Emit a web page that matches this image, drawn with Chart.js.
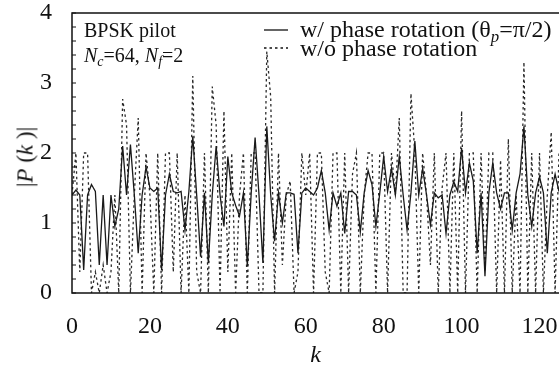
<!DOCTYPE html>
<html>
<head>
<meta charset="utf-8">
<script src="https://cdn.jsdelivr.net/npm/chart.js@4.4.1/dist/chart.umd.min.js"></script>
<style>
    html, body { margin: 0; padding: 0; background: #fff; }
    #wrap { position: relative; width: 559px; height: 374px; overflow: hidden; font-family: "Liberation Serif", "DejaVu Serif", serif; color: #111; }
    #chart { position: absolute; left: 0; top: 0; }
    .txt { position: absolute; white-space: nowrap; line-height: 1; }
    sub { font-size: 0.7em; vertical-align: -0.3em; line-height: 0; }
</style>
</head>
<body>
<div id="wrap">
    <canvas id="chart" width="559" height="374"></canvas>
    <div class="txt" style="left:84px; top:20px; font-size:20px;">BPSK pilot</div>
    <div class="txt" style="left:84px; top:45px; font-size:20px;"><i>N</i><sub><i>c</i></sub>=64, <i>N</i><sub><i>f</i></sub>=2</div>
    <div class="txt" style="left:300px; top:17px; font-size:24px;">w/ phase rotation (&theta;<sub><i>p</i></sub>=&pi;/2)</div>
    <div class="txt" style="left:300px; top:36px; font-size:24px;">w/o phase rotation</div>
    <div class="txt" style="left:25px; top:157px; font-size:23px; transform: translate(-50%, -50%) rotate(-90deg);">|<i>P</i> (<i>k</i> )|</div>
</div>
<script>
// |P(k)| with phase rotation (solid)
const withRotation = [
    1.40, 1.47, 1.40, 0.33, 1.40, 1.55, 1.45, 0.40, 1.40, 0.40,
    1.40, 0.95, 1.20, 2.10, 1.40, 2.12, 1.40, 0.57, 1.40, 1.80,
    1.50, 1.45, 1.50, 0.33, 1.40, 1.70, 1.45, 1.43, 1.45, 0.90,
    1.45, 2.24, 1.40, 0.52, 1.43, 0.43, 1.40, 2.10, 1.40, 0.95,
    1.95, 1.43, 1.25, 1.10, 1.43, 0.38, 1.43, 2.22, 1.40, 0.43,
    2.38, 1.40, 0.74, 1.43, 1.00, 1.43, 1.43, 1.41, 0.57, 1.43,
    1.50, 1.45, 1.40, 1.50, 1.75, 1.43, 0.90, 1.43, 1.24, 1.43,
    0.85, 1.45, 1.45, 1.40, 0.87, 1.43, 1.75, 1.55, 0.95, 1.43,
    1.95, 1.45, 1.78, 1.40, 1.95, 1.40, 0.90, 1.43, 2.17, 1.40,
    1.78, 1.40, 0.97, 1.43, 1.36, 1.40, 0.85, 1.40, 1.59, 1.45,
    2.07, 1.43, 1.86, 1.60, 0.57, 1.43, 0.24, 1.43, 1.86, 1.43,
    1.20, 1.43, 1.43, 0.90, 1.43, 1.70, 2.38, 1.40, 0.95, 1.43,
    1.66, 1.43, 0.57, 1.43, 1.70, 1.45, 1.40, 1.43
];

// |P(k)| without phase rotation (dotted)
const withoutRotation = [
    1.40, 2.00, 0.30, 2.00, 2.00, 0.00, 0.30, 0.00, 0.40, 0.00,
    0.30, 1.40, 0.00, 2.77, 2.40, 0.00, 1.40, 2.50, 0.00, 2.00,
    1.40, 0.00, 2.00, 0.00, 2.00, 2.00, 0.30, 2.00, 0.00, 1.40,
    0.00, 3.10, 0.30, 0.00, 2.00, 0.00, 2.95, 2.40, 0.00, 2.60,
    0.30, 2.00, 0.00, 1.40, 2.00, 0.00, 2.00, 2.00, 0.00, 0.00,
    3.45, 2.80, 0.00, 2.00, 0.40, 1.40, 1.60, 0.00, 0.30, 2.00,
    1.40, 2.00, 0.00, 2.00, 2.00, 0.30, 0.00, 2.00, 2.00, 0.00,
    2.00, 0.00, 1.70, 2.00, 0.00, 1.40, 2.00, 2.00, 0.00, 2.00,
    2.00, 0.00, 2.00, 1.40, 2.50, 0.00, 0.00, 2.85, 2.00, 0.00,
    2.00, 1.40, 0.40, 2.00, 0.00, 1.50, 2.00, 0.00, 2.00, 0.00,
    2.60, 0.00, 2.00, 2.00, 0.00, 2.00, 0.30, 2.00, 2.00, 0.00,
    1.90, 0.00, 2.20, 0.00, 1.40, 0.00, 3.30, 0.00, 2.00, 0.00,
    2.00, 0.00, 1.40, 2.30, 0.00, 2.00, 0.30, 2.00
];

const xTicks = [0, 20, 40, 60, 80, 100, 120];
const yTicks = [0, 1, 2, 3, 4];

const toPoints = (arr) => arr.map((v, k) => ({ x: k, y: v }));

const tickFont = { family: "Liberation Serif", size: 24 };

// frame, inward minor ticks on the y axis and legend samples
const framePlugin = {
    id: "frame",
    afterDraw(chart) {
        const { ctx, chartArea: a, scales } = chart;
        ctx.save();
        ctx.strokeStyle = "#111";
        ctx.lineWidth = 1.5;
        ctx.beginPath();
        ctx.moveTo(a.right + 2, a.top);
        ctx.lineTo(a.left, a.top);
        ctx.lineTo(a.left, a.bottom);
        ctx.lineTo(a.right + 2, a.bottom);
        ctx.stroke();

        ctx.lineWidth = 1;
        for (let i = 0; i <= 20; i++) {
            const y = scales.y.getPixelForValue(i / 5);
            ctx.beginPath();
            ctx.moveTo(a.left, y);
            ctx.lineTo(a.left + 4, y);
            ctx.stroke();
        }

        // legend samples
        ctx.lineWidth = 1.3;
        ctx.beginPath();
        ctx.moveTo(264, 30);
        ctx.lineTo(288, 30);
        ctx.stroke();
        ctx.setLineDash([2.5, 3]);
        ctx.beginPath();
        ctx.moveTo(264, 48);
        ctx.lineTo(288, 48);
        ctx.stroke();
        ctx.restore();
    }
};

new Chart(document.getElementById("chart").getContext("2d"), {
    type: "line",
    data: {
        datasets: [
            {
                label: "w/ phase rotation",
                data: toPoints(withRotation),
                borderColor: "#1a1a1a",
                borderWidth: 1.3,
                pointRadius: 0,
                tension: 0
            },
            {
                label: "w/o phase rotation",
                data: toPoints(withoutRotation),
                borderColor: "#2a2a2a",
                borderWidth: 1.3,
                borderDash: [2.5, 3],
                pointRadius: 0,
                tension: 0
            }
        ]
    },
    options: {
        responsive: false,
        animation: false,
        layout: { padding: { top: 13, right: 0, left: 0, bottom: 0 } },
        plugins: { legend: { display: false }, tooltip: { enabled: false } },
        scales: {
            x: {
                type: "linear",
                min: 0,
                max: 125,
                afterBuildTicks: (s) => { s.ticks = xTicks.map(v => ({ value: v })); },
                afterFit: (s) => { s.height = 81; s.paddingLeft = 0; s.paddingRight = 0; },
                grid: { display: false, drawTicks: false },
                border: { display: false },
                ticks: { color: "#111", font: tickFont, padding: 19, maxRotation: 0 },
                title: {
                    display: true,
                    text: "k",
                    color: "#111",
                    font: { family: "Liberation Serif", size: 24, style: "italic" },
                    padding: { top: 0, bottom: 4 }
                }
            },
            y: {
                min: 0,
                max: 4,
                afterBuildTicks: (s) => { s.ticks = yTicks.map(v => ({ value: v })); },
                afterFit: (s) => { s.width = 72; s.paddingTop = 0; s.paddingBottom = 0; },
                grid: { display: false, drawTicks: false },
                border: { display: false },
                ticks: { color: "#111", font: tickFont, padding: 20 }
            }
        }
    },
    plugins: [framePlugin]
});
</script>
</body>
</html>
